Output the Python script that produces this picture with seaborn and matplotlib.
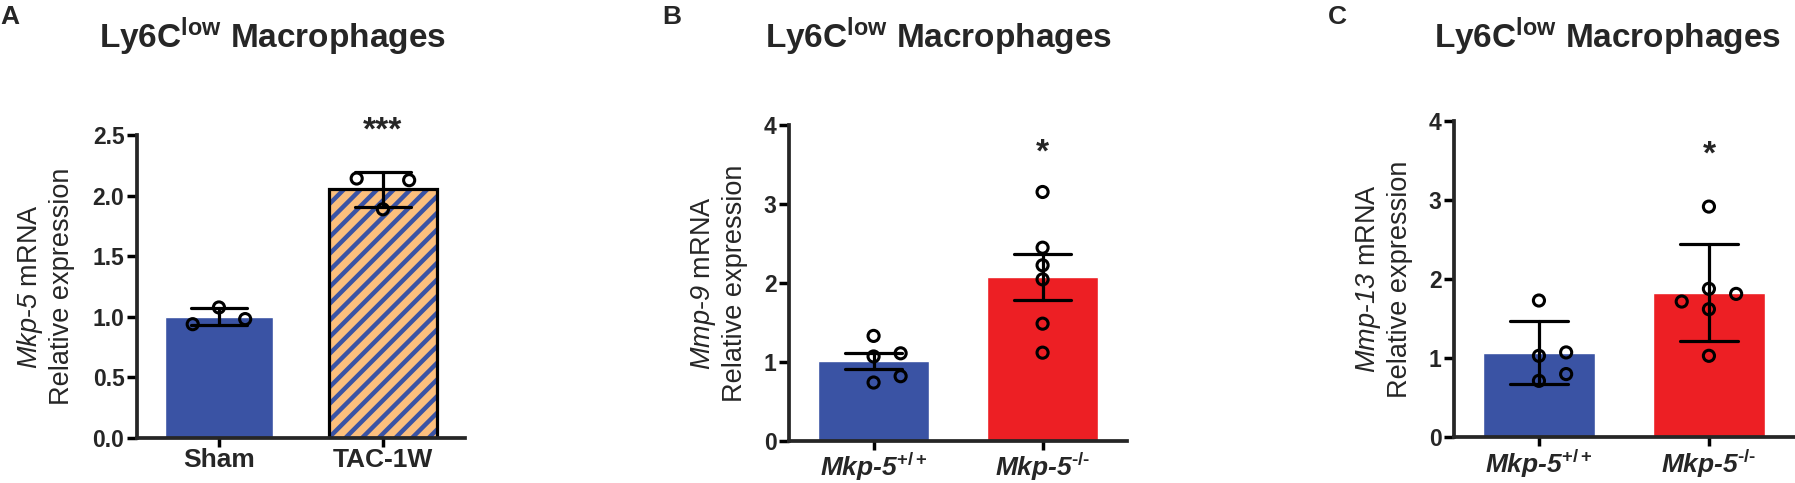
import numpy as np
import pandas as pd
import seaborn as sns
import matplotlib.pyplot as plt
from matplotlib.patches import Rectangle

# valores (pontos individuais, as barras são as médias)
groups_a = ['Sham', 'TAC-1W']
sham_a = [1.077, 0.981, 0.939]
tac_a = [1.887, 2.127, 2.141]

groups_bc = ['Mkp-5+/+', 'Mkp-5-/-']
labels_bc = ['Mkp-5$^{\\mathbf{+/+}}$', 'Mkp-5$^{\\mathbf{\u2010/\u2010}}$']
wt_b = [1.07, 1.11, 0.74, 0.82, 1.33]
ko_b = [3.152, 2.447, 2.224, 2.046, 1.485, 1.118]
wt_c = [1.028, 1.071, 0.711, 0.797, 1.728]
ko_c = [1.618, 1.876, 1.812, 1.715, 1.028, 2.917]

ylabels = ['$\\mathit{Mkp}$-$\\mathit{5}$ mRNA\nRelative expression',
           '$\\mathit{Mmp}$-$\\mathit{9}$ mRNA\nRelative expression',
           '$\\mathit{Mmp}$-$\\mathit{13}$ mRNA\nRelative expression']
stars = ['***', '*', '*']
letters = ['A', 'B', 'C']
title = 'Ly6C$^{\\mathbf{low}}$ Macrophages'

blue = '#3A53A4'
red = '#ED1F24'
orange = '#FBBF7D'

sns.set_style('ticks')
plt.rcParams['font.family'] = 'Liberation Sans'
plt.rcParams['mathtext.fontset'] = 'custom'
plt.rcParams['mathtext.it'] = 'Liberation Sans:italic'
plt.rcParams['mathtext.rm'] = 'Liberation Sans:italic'
plt.rcParams['mathtext.bf'] = 'Liberation Sans:bold'
plt.rcParams['hatch.linewidth'] = 3.2


def slots(values, gap):
    # arranjo dos pontos em colunas, como no GraphPad
    out = []
    for i, v in enumerate(values):
        for s in (0, 1, -1, 2, -2):
            if all(abs(v - values[j]) >= gap for j in range(i) if out[j] == s):
                out.append(s)
                break
    return np.array(out)


def panel(ax, groups, a, b, colors, errorbar, gap, ymax, step):
    df = pd.DataFrame({'group': [groups[0]] * len(a) + [groups[1]] * len(b),
                       'value': a + b})
    sns.barplot(data=df, x='group', y='value', hue='group', order=groups,
                palette=colors, legend=False, saturation=1, width=0.66,
                errorbar=errorbar, capsize=0.34,
                err_kws={'color': 'black', 'linewidth': 2.3, 'zorder': 3},
                ax=ax)
    for k, vals in enumerate([a, b]):
        xs = k + slots(vals, gap) * 0.16
        sns.scatterplot(x=xs, y=vals, ax=ax, marker='o', s=64,
                        facecolor='none', edgecolor='black', linewidth=2.2,
                        zorder=4, legend=False)
    ax.set_xlim(-0.5, 1.5)
    ax.set_ylim(0, ymax)
    ax.set_yticks(np.arange(0, ymax + 0.01, step))
    ax.set_xlabel('')
    sns.despine(ax=ax)
    for side in ['left', 'bottom']:
        ax.spines[side].set_linewidth(2.7)
    ax.tick_params(length=7, width=2.5, pad=2, color='black')
    ax.tick_params(axis='x', length=6.5, pad=1)


fig = plt.figure(figsize=(17.95, 4.83), dpi=100)
rects = [[0.0763, 0.0932, 0.1827, 0.6273],
         [0.4396, 0.0870, 0.1883, 0.6542],
         [0.8100, 0.0952, 0.1894, 0.6542]]
axes = [fig.add_axes(r) for r in rects]

panel(axes[0], groups_a, sham_a, tac_a, [blue, orange], 'sd', 0.26, 2.5, 0.5)
panel(axes[1], groups_bc, wt_b, ko_b, [blue, red], 'se', 0.168, 4, 1)
panel(axes[2], groups_bc, wt_c, ko_c, [blue, red], 'sd', 0.168, 4, 1)

# barra TAC-1W com listras azuis e contorno preto
bar = axes[0].patches[1]
bar.set_hatch('//')
bar.set_edgecolor(blue)
bar.set_linewidth(0)
axes[0].add_patch(Rectangle(bar.get_xy(), bar.get_width(), bar.get_height(),
                            fill=False, edgecolor='black', linewidth=2.3,
                            zorder=2))

axes[0].set_yticks(axes[0].get_yticks(),
                   [f'{t:.1f}' for t in axes[0].get_yticks()])
axes[0].set_xticks([0, 1], groups_a, fontsize=19, fontweight='bold')
for ax in axes[1:]:
    ax.set_yticks(ax.get_yticks(), [f'{t:.0f}' for t in ax.get_yticks()])
    ax.set_xticks([0, 1], labels_bc, fontsize=19, fontweight='bold',
                  fontstyle='italic')
for ax in axes:
    for t in ax.get_yticklabels():
        t.set_fontweight('bold')
        t.set_fontsize(16.5)

star_y = [2.53, 3.65, 3.57]
pads = [13, 11.5, 11.5]
for ax, lab, st, sy, pad in zip(axes, ylabels, stars, star_y, pads):
    ax.set_ylabel(lab, fontsize=19.5, labelpad=pad)
    ax.annotate(st, xy=(1, sy), ha='center', va='center', fontsize=24,
                fontweight='bold', annotation_clip=False)

title_x = [0.152, 0.523, 0.8953]
letter_x = [0.0, 0.3688, 0.7398]
for tx, lx, let in zip(title_x, letter_x, letters):
    fig.text(tx, 0.9006, title, ha='center', va='baseline', fontsize=24,
             fontweight='bold')
    fig.text(lx, 0.950, let, ha='left', va='baseline', fontsize=19,
             fontweight='bold')

fig.savefig('out.png', dpi=100)
